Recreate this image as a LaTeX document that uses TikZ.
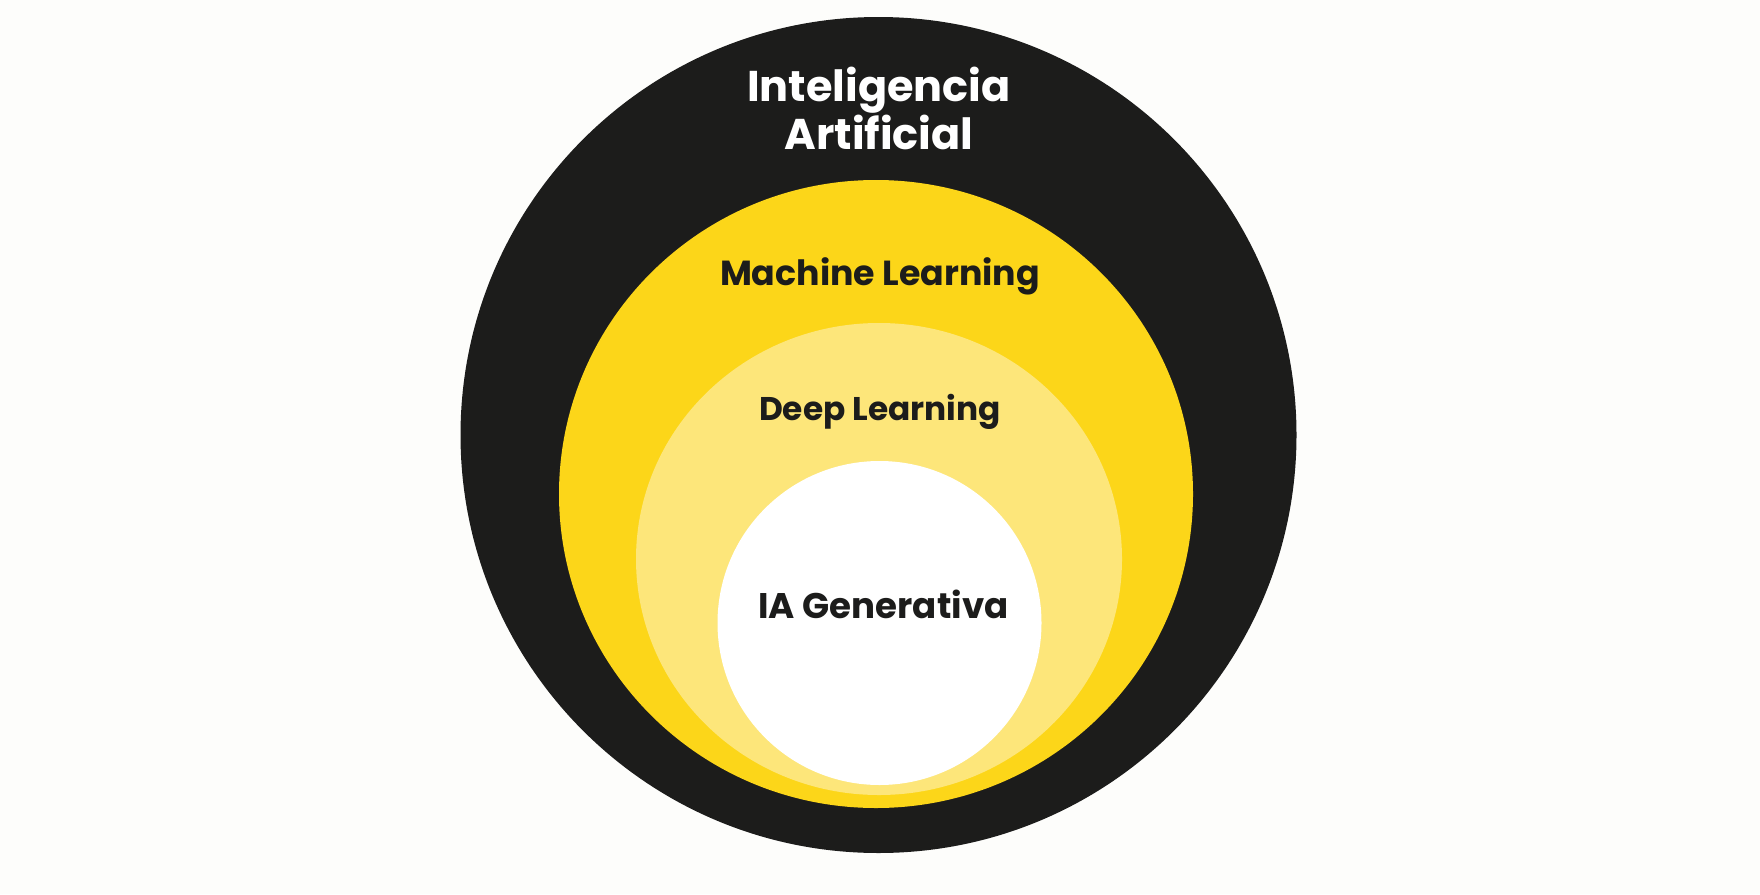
\documentclass[tikz,border=0pt]{standalone}
\usepackage{fontspec}
\setmainfont{Poppins}
\definecolor{aiblack}{HTML}{1C1C1B}
\definecolor{mlyellow}{HTML}{FCD619}
\definecolor{dlyellow}{HTML}{FDE67A}
\definecolor{bgwhite}{HTML}{FDFDFB}
\tikzset{
  label/.style={anchor=base, inner sep=0pt, font=\bfseries},
}
\begin{document}
\begin{tikzpicture}[x=0.5pt,y=-0.5pt]
\fill[bgwhite] (0,0) rectangle (1760,894);
\useasboundingbox (0,0) rectangle (1760,894);
\fill[aiblack] (878.5,435) circle[radius=209pt];
\fill[mlyellow] (876,494) ellipse[x radius=158.5pt, y radius=157pt];
\fill[dlyellow] (879,559) ellipse[x radius=121.5pt, y radius=118pt];
\fill[white] (879.5,623) circle[radius=81pt];
\node[label, text=white, font=\bfseries\fontsize{21.5}{26}\selectfont] (ai1) at (879,101) {Inteligencia};
\node[label, text=white, font=\bfseries\fontsize{21.5}{26}\selectfont] (ai2) at (879,149) {Artificial};
\node[label, text=aiblack, font=\bfseries\fontsize{17.4}{20}\selectfont] (ml) at (880,285) {Machine Learning};
\node[label, text=aiblack, font=\bfseries\fontsize{16.4}{20}\selectfont] (dl) at (880,420) {Deep Learning};
\node[label, text=aiblack, font=\bfseries\fontsize{17.8}{22}\selectfont] (gen) at (883.5,618) {IA Generativa};
\end{tikzpicture}
\end{document}
